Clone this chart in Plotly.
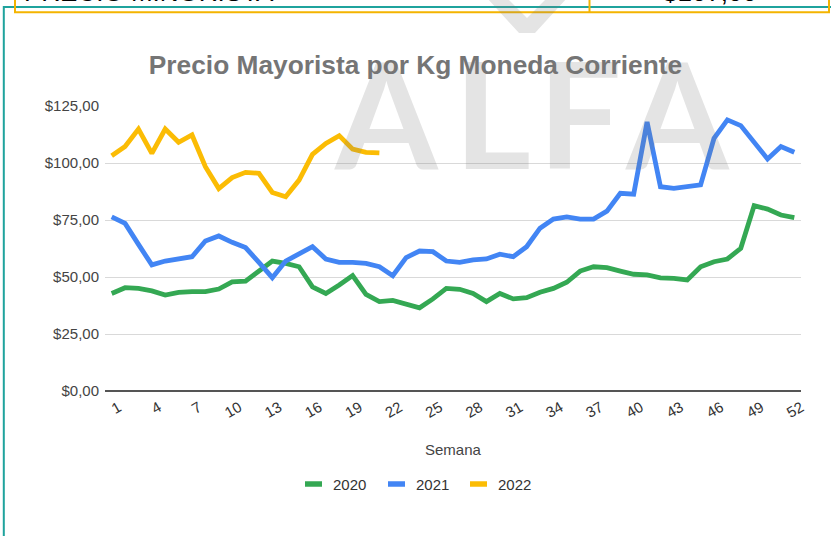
import plotly.graph_objects as go

# ---------------- data ----------------
weeks = list(range(1, 53))
series_names = ["2020", "2021", "2022"]
series_colors = ["#34A853", "#4285F4", "#FBBC04"]

v2020 = [42.8, 45.3, 45.0, 43.9, 42.1, 43.3, 43.6, 43.6, 44.7, 47.9,
         48.2, 52.3, 57.0, 56.0, 54.5, 45.7, 42.8, 46.5, 50.6, 42.4,
         39.2, 39.7, 38.0, 36.5, 40.4, 45.0, 44.6, 42.8, 39.2, 42.8,
         40.4, 40.9, 43.3, 45.0, 47.7, 52.6, 54.5, 54.1, 52.6, 51.2,
         50.9, 49.6, 49.4, 48.7, 54.5, 56.7, 57.9, 62.6, 81.3, 79.8,
         77.2, 76.0]
v2021 = [76.4, 73.5, 64.3, 55.3, 57.0, 57.9, 58.9, 65.8, 68.0, 65.2,
         62.9, 56.4, 49.7, 57.0, 60.0, 63.3, 57.9, 56.4, 56.4, 56.0,
         54.5, 50.6, 58.5, 61.4, 61.1, 57.0, 56.4, 57.5, 57.9, 60.0,
         58.9, 63.3, 71.4, 75.4, 76.4, 75.4, 75.4, 78.9, 86.7, 86.3,
         118.0, 89.6, 88.9, 89.9, 90.4, 110.8, 118.9, 116.4, 109.1, 101.8,
         107.2, 104.7]
v2022 = [103.2, 107.2, 114.9, 104.2, 114.9, 109.1, 112.3, 98.4, 88.8, 93.6,
         95.9, 95.5, 87.1, 85.2, 92.5, 103.8, 108.6, 112.0, 106.1, 104.7,
         104.4]
series_values = [v2020, v2021, v2022]

x_tickvals = list(range(1, 53, 3))
x_ticktext = [str(v) for v in x_tickvals]
y_tickvals = [0, 25, 50, 75, 100, 125]
y_ticktext = ["$0,00", "$25,00", "$50,00", "$75,00", "$100,00", "$125,00"]

title_text = "Precio Mayorista por Kg Moneda Corriente"
x_title = "Semana"
header_left = "PRECIO MINORISTA"
header_right = "$107,00"
watermark_letters = ["A", "L", "F", "A"]

# ---------------- layout geometry ----------------
W, H = 831, 536
ML, MR, MT, MB = 105, 30, 106, 145
PW, PH = W - ML - MR, H - MT - MB


def px(x):
    return (x - ML) / PW


def py(y):
    return (H - MB - y) / PH


FONT = "Liberation Sans, Arial, sans-serif"

fig = go.Figure()
for name, color, vals in zip(series_names, series_colors, series_values):
    fig.add_trace(go.Scatter(
        x=weeks[:len(vals)], y=vals, name=name, mode="lines",
        line=dict(color=color, width=4.8), showlegend=False,
        hoverinfo="skip",
    ))

shapes = []
annotations = []

# teal frame
shapes.append(dict(type="rect", xref="paper", yref="paper",
                   x0=px(3.8), x1=px(845), y0=py(7), y1=py(620),
                   line=dict(color="#1fa39d", width=2), fillcolor="rgba(0,0,0,0)",
                   layer="above"))
# orange header table
shapes.append(dict(type="rect", xref="paper", yref="paper",
                   x0=px(15), x1=px(829), y0=py(12.3), y1=py(-30),
                   line=dict(color="#F4B400", width=2), fillcolor="rgba(0,0,0,0)",
                   layer="above"))
shapes.append(dict(type="line", xref="paper", yref="paper",
                   x0=px(589.5), x1=px(589.5), y0=py(12.3), y1=py(-30),
                   line=dict(color="#F4B400", width=2), layer="above"))

annotations.append(dict(text=header_left, xref="paper", yref="paper",
                        x=px(22), y=py(9), xanchor="left", yanchor="bottom",
                        showarrow=False, font=dict(family=FONT, size=26, color="#000")))
annotations.append(dict(text=header_right, xref="paper", yref="paper",
                        x=px(710), y=py(9), xanchor="center", yanchor="bottom",
                        showarrow=False, font=dict(family=FONT, size=26, color="#000")))

# axis title
annotations.append(dict(text=x_title, xref="paper", yref="paper",
                        x=0.5, y=py(449), xanchor="center", yanchor="middle",
                        showarrow=False, font=dict(family=FONT, size=15, color="#444444")))

# custom legend
leg_sym_x = [305, 388, 470]
for name, color, sx in zip(series_names, series_colors, leg_sym_x):
    shapes.append(dict(type="line", xref="paper", yref="paper",
                       x0=px(sx), x1=px(sx + 17), y0=py(484), y1=py(484),
                       line=dict(color=color, width=5.5), layer="above"))
    annotations.append(dict(text=name, xref="paper", yref="paper",
                            x=px(sx + 26), y=py(484), xanchor="left", yanchor="middle",
                            showarrow=False,
                            font=dict(family=FONT, size=15, color="#333333")))

# watermark
wm_centers = [386, 492, 580, 677]
for letter, cx in zip(watermark_letters, wm_centers):
    annotations.append(dict(text=letter, xref="paper", yref="paper",
                            x=px(cx), y=py(112), xanchor="center", yanchor="middle",
                            showarrow=False,
                            font=dict(family="Lato, Open Sans, sans-serif", size=148,
                                      color="rgba(120,120,120,0.2)", weight="bold")))
shapes.append(dict(type="path", xref="paper", yref="paper",
                   path="M {},{} L {},{} L {},{} L {},{} L {},{} L {},{} L {},{} Z".format(
                       px(487), py(-2), px(507), py(-2), px(527), py(18),
                       px(547), py(-2), px(567), py(-2), px(535), py(33),
                       px(519), py(33)),
                   line=dict(width=0), fillcolor="rgba(120,120,120,0.2)", layer="above"))

fig.update_layout(
    width=W, height=H,
    margin=dict(l=ML, r=MR, t=MT, b=MB),
    paper_bgcolor="white", plot_bgcolor="white",
    title=dict(text="<b>" + title_text + "</b>", x=0.5, xanchor="center",
               y=1 - 65 / H, yanchor="middle",
               font=dict(family=FONT, size=26.3, color="#757575")),
    xaxis=dict(range=[0.5, 52.5], tickvals=x_tickvals, ticktext=x_ticktext,
               tickangle=-30, showgrid=False, zeroline=False, ticks="",
               ticklabelshift=7, ticklabelstandoff=4,
               tickfont=dict(family=FONT, size=15, color="#333333")),
    yaxis=dict(range=[0, 125], tickvals=y_tickvals, ticktext=y_ticktext,
               showgrid=True, gridcolor="#d9d9d9", gridwidth=1,
               zeroline=True, zerolinecolor="#555555", zerolinewidth=1.5,
               ticks="", ticklabelstandoff=5,
               tickfont=dict(family=FONT, size=15, color="#444444")),
    hovermode=False,
    shapes=shapes,
    annotations=annotations,
)

fig.write_html("out.html",
               config={"displayModeBar": False, "staticPlot": True},
               post_script="document.body.style.margin='0';"
                           "document.documentElement.style.overflow='hidden';")
